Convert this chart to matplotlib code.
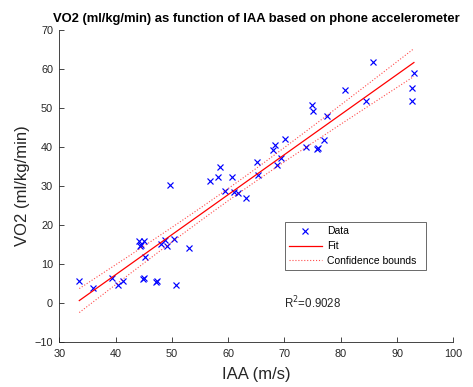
import numpy as np
import matplotlib
matplotlib.use("Agg")
import matplotlib.pyplot as plt

plt.rcParams['font.family'] = ['Liberation Sans', 'DejaVu Sans']

# Data
iaa = [33.55, 35.9, 39.35, 40.5, 41.3, 44.2, 45.1, 44.4, 44.5, 45.2, 44.8, 45.1,
       47.2, 47.3, 48.1, 48.8, 49.1, 49.6, 50.4, 50.7, 53.1, 56.7, 58.2, 58.5,
       59.5, 60.7, 61.1, 61.7, 63.2, 65.1, 65.3, 68.0, 68.3, 68.65, 69.4, 70.1,
       73.8, 74.9, 75.0, 75.85, 76.0, 77.1, 77.5, 80.8, 84.5, 85.8, 92.6, 92.6, 93.0]
vo2 = [5.6, 3.7, 6.3, 4.55, 5.65, 15.9, 15.9, 14.6, 14.9, 11.8, 6.0, 6.4,
       5.3, 5.5, 15.1, 16.1, 14.6, 30.2, 16.4, 4.55, 14.1, 31.2, 32.2, 34.8,
       28.75, 32.35, 28.5, 28.2, 27.0, 36.0, 32.8, 39.2, 40.5, 35.35, 37.1, 42.0,
       40.05, 50.75, 49.3, 39.4, 39.6, 41.8, 48.0, 54.6, 51.85, 61.9, 55.0, 51.85, 58.9]
r2_text = "R$^2$=0.9028"
title = "VO2 (ml/kg/min) as function of IAA based on phone accelerometer"
xlabel = "IAA (m/s)"
ylabel = "VO2 (ml/kg/min)"
xticks = [30, 40, 50, 60, 70, 80, 90, 100]
yticks = [-10, 0, 10, 20, 30, 40, 50, 60, 70]

x = np.array(iaa)
y = np.array(vo2)
n = len(x)
b, a = np.polyfit(x, y, 1)
resid = y - (a + b * x)
s = np.sqrt(np.sum(resid ** 2) / (n - 2))
sxx = np.sum((x - x.mean()) ** 2)
t = 2.012
xf = np.linspace(x.min(), x.max(), 200)
yf = a + b * xf
half = t * s * np.sqrt(1.0 / n + (xf - x.mean()) ** 2 / sxx)

fig = plt.figure(figsize=(4.73, 3.87), dpi=100)
ax = fig.add_axes([0.1254, 0.117, 0.8330, 0.8055])

gray = (0.15, 0.15, 0.15)
ax.plot(x, y, 'x', color='blue', markersize=5, markeredgewidth=0.85, label='Data')
ax.plot(xf, yf, '-', color='red', linewidth=0.9, label='Fit')
ax.plot(xf, yf + half, ':', color='red', linewidth=0.8, alpha=0.7, label='Confidence bounds')
ax.plot(xf, yf - half, ':', color='red', linewidth=0.8, alpha=0.7)

ax.set_xlim(30, 100)
ax.set_ylim(-10, 70)
ax.set_xticks(xticks)
ax.set_yticks(yticks)
for sp in ['top', 'right']:
    ax.spines[sp].set_visible(False)
for sp in ['left', 'bottom']:
    ax.spines[sp].set_color(gray)
    ax.spines[sp].set_linewidth(0.6)
ax.tick_params(direction='in', length=3.5, width=0.6, colors=gray, labelsize=7.8)
ax.tick_params(axis='x', pad=5)
ax.tick_params(axis='y', pad=4.5)

ax.set_title(title, fontsize=9.4, fontweight='bold', pad=6)
ax.set_xlabel(xlabel, fontsize=12, color=gray, labelpad=6)
ax.set_ylabel(ylabel, fontsize=12, color=gray, labelpad=3)

leg = ax.legend(loc='lower left', bbox_to_anchor=(0.573, 0.23, 0.357, 0.152), mode='expand',
                fontsize=7.5, frameon=True, fancybox=False, borderaxespad=0,
                handlelength=3.1, handletextpad=0.5, labelspacing=0.45, borderpad=0.4)
leg.get_frame().set_edgecolor(gray)
leg.get_frame().set_linewidth(0.6)

ax.text(70.0, 0.0, r2_text, fontsize=8.3, color=gray, ha='left', va='center')

fig.savefig('out.png', dpi=100)
